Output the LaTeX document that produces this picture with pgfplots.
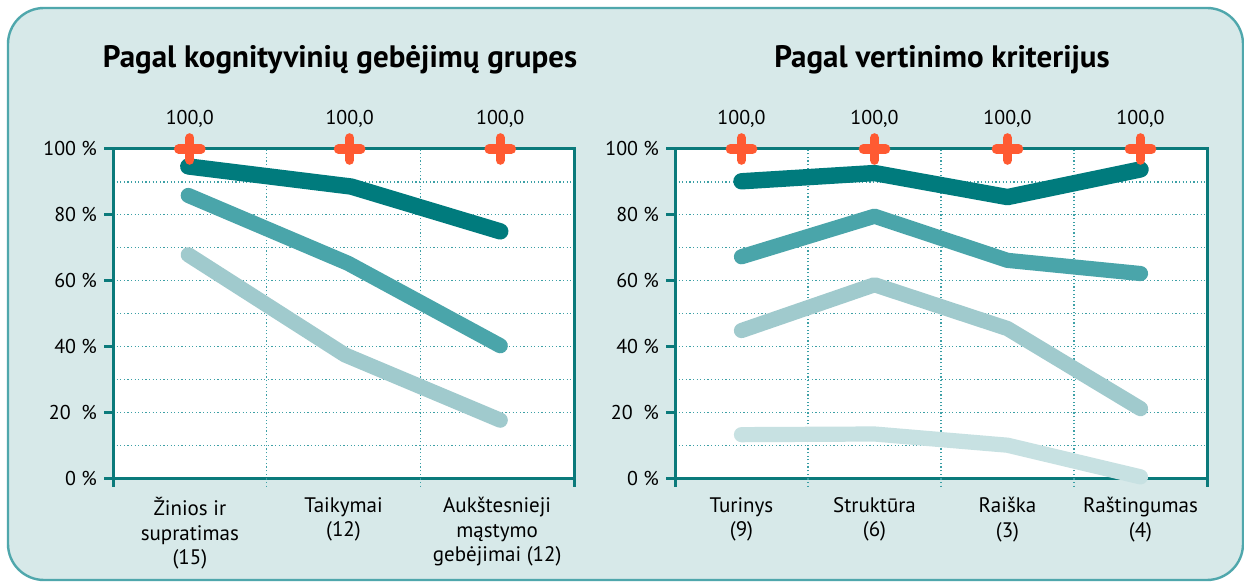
\documentclass[border=0pt]{standalone}
\usepackage{fontspec}
\setmainfont{PT Sans}
\usepackage{pgfplots}
\pgfplotsset{compat=1.18}
\definecolor{bgC}{HTML}{D7E9E9}
\definecolor{frameC}{HTML}{4FA7AC}
\definecolor{axC}{HTML}{0B7A7B}
\definecolor{gridC}{HTML}{3DA0A6}
\definecolor{sA}{HTML}{007B7D}
\definecolor{sB}{HTML}{4AA5AA}
\definecolor{sC}{HTML}{A0CACD}
\definecolor{sD}{HTML}{C7E1E2}
\definecolor{plusC}{HTML}{FF5A32}
\pgfplotsset{
  mystyle/.style={
    scale only axis, clip=false,
    height=164.75pt,
    ymin=0, ymax=100,
    axis line style={axC, line width=1.5pt},
    axis background/.style={fill=white},
    ytick={0,20,40,60,80,100},
    yticklabels={0 \%,20\ \ \%,40 \%,60 \%,80 \%,100 \%},
    minor ytick={10,30,50,70,90},
    ymajorgrids, yminorgrids, xminorgrids,
    major grid style={gridC, line width=0.6pt, dash pattern=on 0.6pt off 1.2pt},
    minor grid style={gridC, line width=0.6pt, dash pattern=on 0.6pt off 1.2pt},
    tick align=outside, ytick pos=left, xtick pos=bottom,
    major tick length=4.5pt, minor tick length=0pt,
    tick style={axC, line width=1.5pt},
    xtick style={draw=none},
    y tick label style={font=\fontsize{10}{12}\selectfont, text=black},
    x tick label style={font=\fontsize{10.5}{12.2}\selectfont, text=black, align=center, anchor=north, yshift=-1.5pt},
    every node near coord/.append style={text=black, font=\fontsize{10}{12}\selectfont, anchor=south, yshift=5pt},
  },
  serA/.style={sA, line width=8.2pt, line cap=round, line join=round},
  serB/.style={sB, line width=7.6pt, line cap=round, line join=round},
  serC/.style={sC, line width=7.6pt, line cap=round, line join=round},
  serD/.style={sD, line width=7.6pt, line cap=round, line join=round},
  plus/.style={only marks, mark=+, mark size=5.6pt, plusC,
    mark options={line width=4.6pt, line cap=round},
    nodes near coords={100{,}0}},
}
\begin{document}
\begin{tikzpicture}
\path[use as bounding box] (0,0) rectangle (622pt,291pt);
\fill[white] (0,0) rectangle (622pt,291pt);
\draw[line width=1.2pt, draw=frameC, fill=bgC, rounded corners=18pt] (4pt,1pt) rectangle (621.5pt,287pt);
\node[font=\bfseries\fontsize{15.5}{18}\selectfont, anchor=base] at (170pt,257pt) {Pagal kognityvinių gebėjimų grupes};
\node[font=\bfseries\fontsize{15.5}{18}\selectfont, anchor=base] at (471pt,257pt) {Pagal vertinimo kriterijus};

\begin{axis}[mystyle, at={(56.5pt,51.75pt)}, anchor=south west,
  width=230.5pt, xmin=0, xmax=3,
  xtick={0.5,1.5,2.5},
  xticklabels={{Žinios ir\\supratimas\\(15)},{Taikymai\\(12)},{Aukštesnieji\\mąstymo\\gebėjimai (12)}},
  minor xtick={1,2}]
\draw[axC, line width=1.5pt] (axis cs:0,0) -- ++(0,-4.5pt);
\draw[axC, line width=1.5pt] (axis cs:3,0) -- ++(0,-4.5pt);
\draw[gridC, line width=0.6pt, dash pattern=on 0.6pt off 1.2pt] (axis cs:1,0) -- ++(0,-4.5pt);
\draw[gridC, line width=0.6pt, dash pattern=on 0.6pt off 1.2pt] (axis cs:2,0) -- ++(0,-4.5pt);
\addplot[serA] coordinates {(0.49,94.7) (1.55,88.6) (2.52,75.0)};
\addplot[serB] coordinates {(0.49,85.9) (1.53,65.3) (2.52,40.3)};
\addplot[serC] coordinates {(0.49,67.9) (1.51,37.5) (2.52,17.7)};
\addplot[plus] coordinates {(0.5,100) (1.54,100) (2.52,100)};
\end{axis}

\begin{axis}[mystyle, at={(337.5pt,51.75pt)}, anchor=south west,
  width=266pt, xmin=0, xmax=4,
  xtick={0.5,1.5,2.5,3.5},
  xticklabels={{Turinys\\(9)},{Struktūra\\(6)},{Raiška\\(3)},{Raštingumas\\(4)}},
  minor xtick={1,2,3}]
\draw[axC, line width=1.5pt] (axis cs:0,0) -- ++(0,-4.5pt);
\draw[axC, line width=1.5pt] (axis cs:4,0) -- ++(0,-4.5pt);
\draw[gridC, line width=0.6pt, dash pattern=on 0.6pt off 1.2pt] (axis cs:1,0) -- ++(0,-4.5pt);
\draw[gridC, line width=0.6pt, dash pattern=on 0.6pt off 1.2pt] (axis cs:2,0) -- ++(0,-4.5pt);
\draw[gridC, line width=0.6pt, dash pattern=on 0.6pt off 1.2pt] (axis cs:3,0) -- ++(0,-4.5pt);
\addplot[serA] coordinates {(0.5,90.2) (1.5,92.7) (2.5,85.4) (3.5,93.8)};
\addplot[serB] coordinates {(0.5,67.3) (1.5,79.6) (2.5,66.2) (3.5,62.2)};
\addplot[serC] coordinates {(0.5,44.9) (1.5,58.8) (2.5,45.5) (3.5,21.2)};
\addplot[serD] coordinates {(0.5,13.3) (1.5,13.5) (2.5,10.1) (3.5,0.5)};
\addplot[plus] coordinates {(0.5,100) (1.5,100) (2.5,100) (3.5,100)};
\end{axis}
\end{tikzpicture}
\end{document}
